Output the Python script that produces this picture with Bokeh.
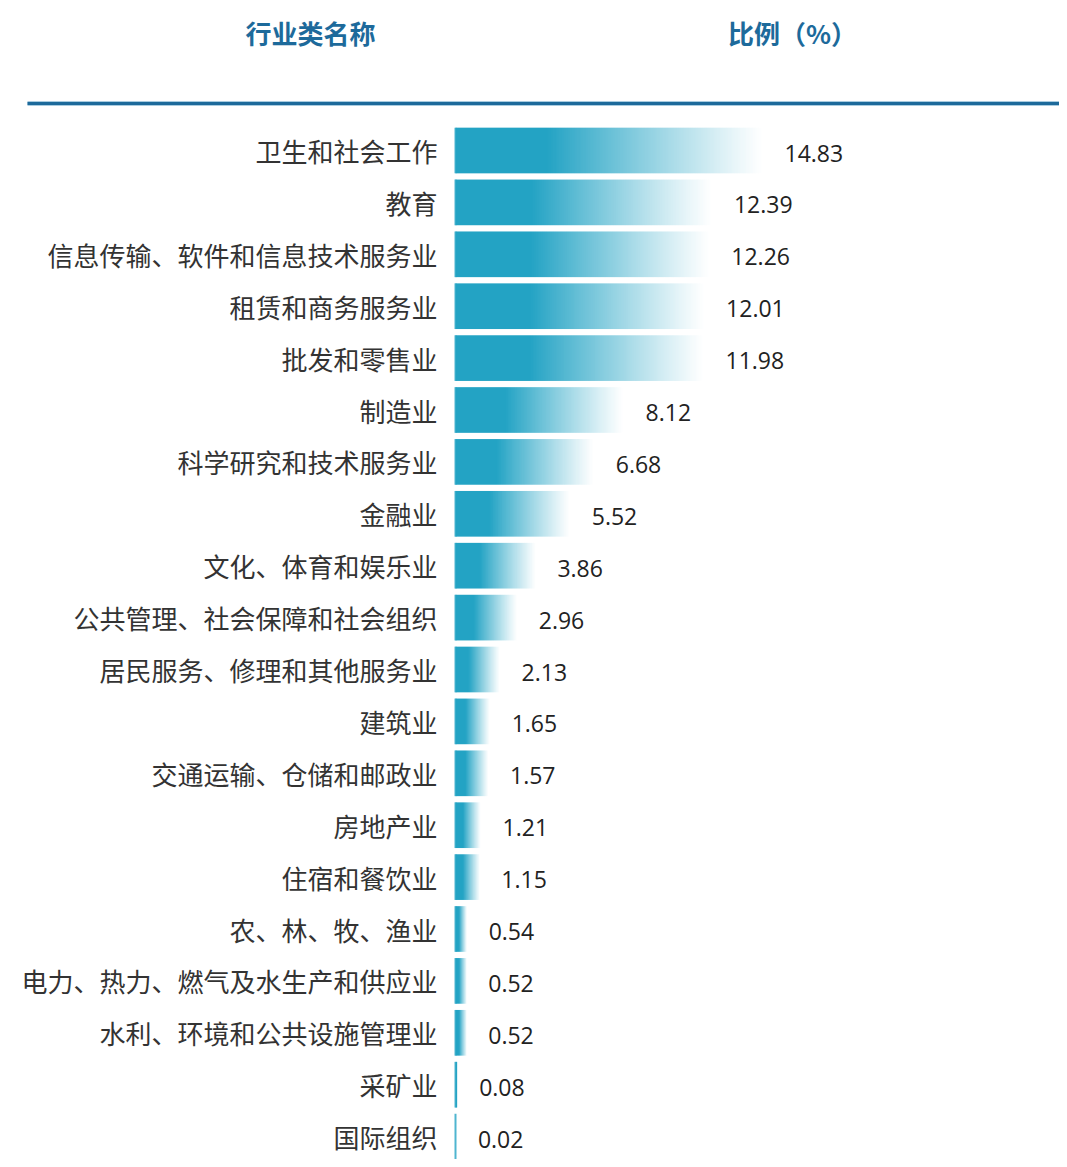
import numpy as np
from bokeh.plotting import figure
from bokeh.models import Range1d, ColumnDataSource
from bokeh.core.properties import value
from bokeh.embed import file_html
from bokeh.resources import INLINE

# ---- data ----
categories = [
    "卫生和社会工作", "教育", "信息传输、软件和信息技术服务业", "租赁和商务服务业",
    "批发和零售业", "制造业", "科学研究和技术服务业", "金融业",
    "文化、体育和娱乐业", "公共管理、社会保障和社会组织", "居民服务、修理和其他服务业",
    "建筑业", "交通运输、仓储和邮政业", "房地产业", "住宿和餐饮业",
    "农、林、牧、渔业", "电力、热力、燃气及水生产和供应业", "水利、环境和公共设施管理业",
    "采矿业", "国际组织",
]
ratios = [14.83, 12.39, 12.26, 12.01, 11.98, 8.12, 6.68, 5.52, 3.86, 2.96,
          2.13, 1.65, 1.57, 1.21, 1.15, 0.54, 0.52, 0.52, 0.08, 0.02]
header_left = "行业类名称"
header_right = "比例（%）"

# ---- layout ----
W, H = 1059, 1159
PX_PER_UNIT = 20.7
BAR_X0 = 455      # frame px where bars start
ROW_H = 51.9
ROW0 = 150        # frame px of first row centre

def px_x(px):
    return (px - BAR_X0) / PX_PER_UNIT

def px_y(py):
    return (ROW0 - py) / ROW_H

BAR_COLOR = (35, 163, 196)
HEAD_COLOR = "#1d6a9b"

p = figure(width=W, height=H, output_backend="svg", toolbar_location=None,
           x_range=Range1d(px_x(0), px_x(W)), y_range=Range1d(px_y(H), px_y(0)),
           min_border=0, outline_line_color=None, background_fill_color="white",
           border_fill_color="white")
p.axis.visible = False
p.grid.visible = False

n = len(categories)
ys = [-i for i in range(n)]

# gradient image: solid then fading to white
N = 256
t = (np.arange(N) + 0.5) / N
alpha = np.where(t < 0.3, 1.0, np.clip((1 - t) / 0.7, 0, 1)) ** 1.1
img = np.zeros((1, N), dtype=np.uint32)
view = img.view(dtype=np.uint8).reshape((1, N, 4))
view[0, :, 0] = BAR_COLOR[0]
view[0, :, 1] = BAR_COLOR[1]
view[0, :, 2] = BAR_COLOR[2]
view[0, :, 3] = (alpha * 255).astype(np.uint8)

BAR_H = 0.88
src = ColumnDataSource(dict(
    image=[img] * n,
    x=[0] * n,
    y=[yy - BAR_H / 2 for yy in ys],
    dw=ratios,
    dh=[BAR_H] * n,
))
p.image_rgba(image="image", x="x", y="y", dw="dw", dh="dh", source=src)

# thin left edge so tiny bars remain visible
p.segment(x0=[0] * n, x1=[0] * n, y0=[yy - BAR_H / 2 for yy in ys],
          y1=[yy + BAR_H / 2 for yy in ys], line_width=2,
          line_color="#%02x%02x%02x" % BAR_COLOR, line_alpha=0.8)

# category labels
p.text(x=[px_x(437)] * n, y=ys, text=categories, text_align="right",
       text_baseline="middle", text_font=value("Noto Sans CJK SC"),
       text_font_size="26px", text_color="#333333")

# value labels
p.text(x=[r + 22 / PX_PER_UNIT for r in ratios], y=[yy - 0.05 for yy in ys],
       text=["%.2f" % r for r in ratios], text_align="left",
       text_baseline="middle", text_font=value("Open Sans"),
       text_font_size="23px", text_color="#222222")

# header
p.text(x=[px_x(310), px_x(792)], y=[px_y(32)] * 2, text=[header_left, header_right],
       text_align="center", text_baseline="middle",
       text_font=value("Noto Sans CJK SC"), text_font_style="bold",
       text_font_size="26px", text_color=HEAD_COLOR)

# header rule
p.segment(x0=[px_x(27)], x1=[px_x(W)], y0=[px_y(103)], y1=[px_y(103)],
          line_width=5, line_color="#a9cce0")
p.segment(x0=[px_x(27)], x1=[px_x(W)], y0=[px_y(103)], y1=[px_y(103)],
          line_width=3, line_color=HEAD_COLOR)

open("out.html", "w").write(file_html(p, INLINE))
